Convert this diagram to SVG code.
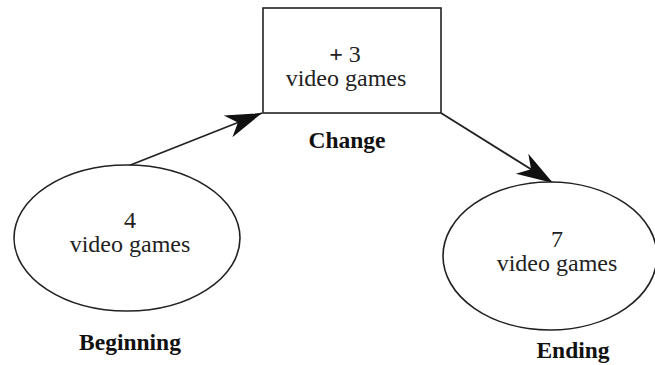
<svg xmlns="http://www.w3.org/2000/svg" width="655" height="365" viewBox="0 0 655 365">
<style>
.shape{fill:#fff;stroke:#222;stroke-width:1.6}
.t{font-family:"Liberation Serif","Times New Roman",serif;font-size:24px;fill:#222;text-anchor:middle}
.b{font-family:"Liberation Serif","Times New Roman",serif;font-size:23.5px;font-weight:bold;fill:#111;text-anchor:middle}
.conn{stroke:#222;stroke-width:1.8;fill:none}
</style>
<defs>
<marker id="ah" markerUnits="userSpaceOnUse" markerWidth="40" markerHeight="30" viewBox="-32 -12 34 24" refX="0" refY="0" orient="auto">
<path d="M0,0 L-31,-10 L-22,0 L-31,10 Z" fill="#111"/>
</marker>
</defs>
<rect width="655" height="365" fill="#fff"/>
<g id="connectors">
<line class="conn" x1="128" y1="166" x2="262" y2="113" marker-end="url(#ah)"/>
<line class="conn" x1="441" y1="113" x2="553" y2="183" marker-end="url(#ah)"/>
</g>
<g id="beginning">
<ellipse class="shape" cx="127" cy="238" rx="113" ry="73"/>
<text class="t" x="130" y="228">4</text>
<text class="t" x="130" y="252">video games</text>
<text class="b" x="130" y="350">Beginning</text>
</g>
<g id="change">
<rect class="shape" x="263" y="8" width="178" height="105"/>
<text class="t" x="345" y="62"><tspan font-weight="bold">+</tspan> 3</text>
<text class="t" x="346" y="86">video games</text>
<text class="b" x="347" y="148">Change</text>
</g>
<g id="ending">
<ellipse class="shape" cx="550" cy="256" rx="107" ry="74"/>
<text class="t" x="557" y="247">7</text>
<text class="t" x="557" y="271">video games</text>
<text class="b" x="573" y="358">Ending</text>
</g>
</svg>
